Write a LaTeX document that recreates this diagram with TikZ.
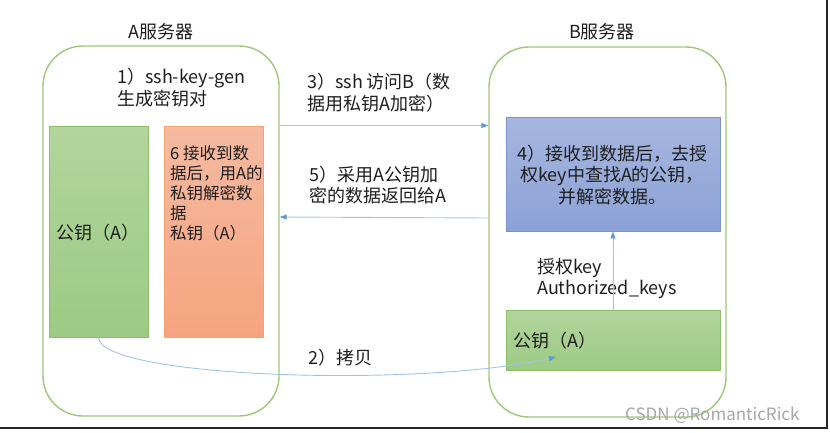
\documentclass[tikz,border=0pt]{standalone}
\usepackage{fontspec}
\setmainfont{Noto Sans CJK SC}
\usepackage{xcolor}
\usepackage{tikz}
\usetikzlibrary{arrows.meta}
\definecolor{txtgray}{HTML}{1E1E1E}
\definecolor{srvgreen}{HTML}{9DC878}
\definecolor{keygreen}{HTML}{8DBF6B}
\definecolor{greentop}{HTML}{B2D59D}
\definecolor{greenbot}{HTML}{9CCA84}
\definecolor{keyorange}{HTML}{F5A26F}
\definecolor{orangetop}{HTML}{F5BAA2}
\definecolor{orangebot}{HTML}{F6A47F}
\definecolor{keyblue}{HTML}{7B95CC}
\definecolor{bluetop}{HTML}{A7B6DF}
\definecolor{bluebot}{HTML}{8BA2D7}
\definecolor{linkblue}{HTML}{9EC5E8}
\definecolor{tipblue}{HTML}{5B9BD5}

\begin{document}
\begin{tikzpicture}[x=1pt, y=-1pt, every node/.style={inner sep=0pt, align=left, text=txtgray, font=\fontsize{18}{21.5}\selectfont},
  server/.style={draw=srvgreen, line width=1.4pt, rounded corners=40pt},
  pubkey/.style={draw=keygreen, line width=0.9pt, top color=greentop, bottom color=greenbot},
  privkey/.style={draw=keyorange, line width=0.9pt, top color=orangetop, bottom color=orangebot},
  decbox/.style={draw=keyblue, line width=0.9pt, top color=bluetop, bottom color=bluebot},
  link/.style={draw=linkblue, line width=0.9pt, -{Triangle[length=7pt,width=5pt,color=tipblue]}}]
				\useasboundingbox (0,0) rectangle (830,432);
				\node (titleA) at (161,32) {A服务器};
				\node (titleB) at (602,32) {B服务器};
				\node[server, minimum width=236pt, minimum height=370pt] (srvA) at (161,231) {};
				\node[server, minimum width=237pt, minimum height=370pt] (srvB) at (607.5,232) {};
				\node[pubkey, minimum width=99pt, minimum height=211pt] (pubA) at (98.5,231.5) {};
				\node[privkey, minimum width=99pt, minimum height=211pt] (privA) at (213.5,231.5) {};
				\node[decbox, minimum width=214pt, minimum height=114pt] (decB) at (613,174) {};
				\node[pubkey, minimum width=214pt, minimum height=60pt] (pubB) at (613,340) {};
				\node[anchor=west] (gen) at (117,87.5) {1）ssh-key-gen\\生成密钥对};
				\node[anchor=west] (pubAtext) at (56,233) {公钥（A）};
				\node[anchor=west, font=\fontsize{16.5}{20}\selectfont] (privAtext) at (170,193) {6 接收到数\\据后，用A的\\私钥解密数\\据\\私钥（A）};
				\node[align=center] (decBtext) at (612,175) {4）接收到数据后，去授\\权key中查找A的公钥，\\并解密数据。};
				\node[anchor=west] (pubBtext) at (513,341) {公钥（A）};
				\node[anchor=west] (sendlbl) at (307,92.5) {3）ssh 访问B（数\\据用私钥A加密）};
				\node[anchor=west] (backlbl) at (309,185) {5）采用A公钥加\\密的数据返回给A};
				\node[anchor=west] (authlbl) at (537,278.5) {授权key\\Authorized\_keys};
				\node[anchor=west] (copylbl) at (308,358) {2）拷贝};
				\node[anchor=west, text=gray!70, font=\fontsize{17}{20}\selectfont] (mark) at (625,415) {CSDN @RomanticRick};
				\coordinate (copyend) at (556,357);
				\draw[link] (srvA.east |- pubA.north) -- (srvB.west |- pubA.north);
				\draw[link] ([yshift=14pt]srvB.west) -- ([yshift=14pt]srvA.east);
				\draw[link] (pubB.north) -- (decB.south);
				\draw[link] (pubA.south) .. controls (100,378) and (420,388) .. (copyend);
				\draw[line width=1.2pt, black!85] (0,428) -- (827,428) -- (827,0);
			\end{tikzpicture}
\end{document}
